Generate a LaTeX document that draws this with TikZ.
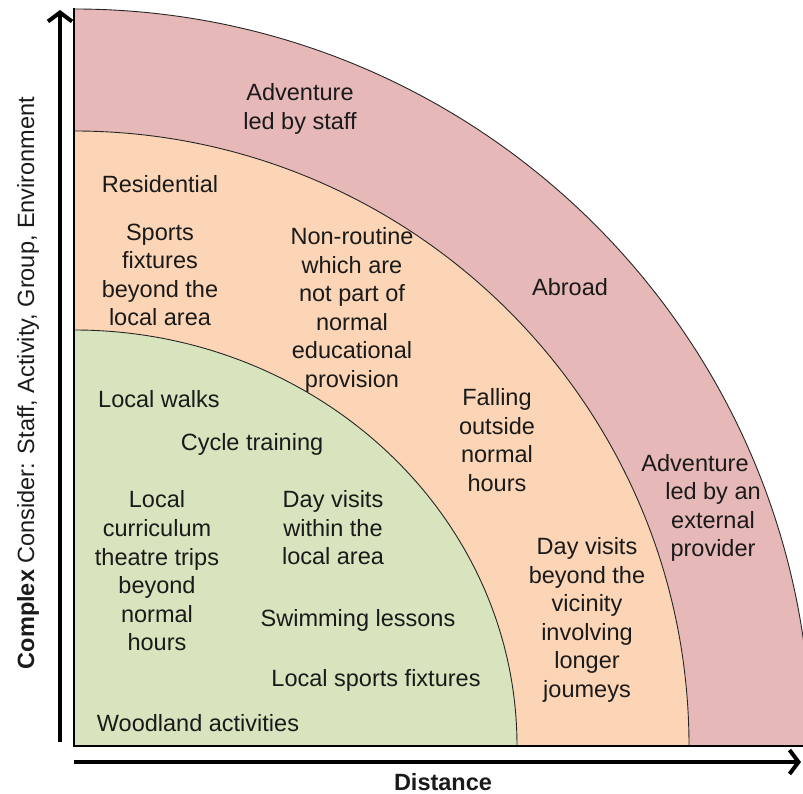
\documentclass[tikz,border=0pt]{standalone}
\usepackage{fontspec}
\setmainfont{Liberation Sans}
\usetikzlibrary{arrows.meta}
\definecolor{outerpink}{HTML}{E6B8B7}
\definecolor{midpeach}{HTML}{FBD5B5}
\definecolor{innergreen}{HTML}{D7E4BD}
\definecolor{txt}{HTML}{1A1A1A}
\tikzset{
  lbl/.style={font=\fontsize{23.6}{28.7}\selectfont, text=txt, align=center, inner sep=0pt},
  ring/.style={draw=black!85, line width=0.9bp},
  axis/.style={line width=4bp, -{Straight Barb[length=9bp,width=24bp,line width=4bp]}}
}
\begin{document}
\begin{tikzpicture}[x=1bp,y=1bp]
\useasboundingbox (0,0) rectangle (803,794);
\coordinate (C) at (74,48);
% regions
\filldraw[ring, fill=outerpink] (C) -- (74,785) arc[start angle=90,end angle=0,radius=737] -- cycle;
\filldraw[ring, fill=midpeach] (C) -- (74,663) arc[start angle=90,end angle=0,radius=615] -- cycle;
\filldraw[ring, fill=innergreen] (C) -- (74,464) arc[start angle=90,end angle=0,x radius=443,y radius=416] -- cycle;
\draw[line width=2.5bp, line cap=rect] (74,785) -- (C) -- (803,48);
% axes
\coordinate (ya) at (60,52);
\coordinate (yb) at (60,784);
\coordinate (xa) at (74,32);
\coordinate (xb) at (801,32);
\draw[axis] (ya) -- (yb);
\draw[axis] (xa) -- (xb);
% labels
\node[lbl] (adv1) at (300,685) {Adventure\\led by staff};
\node[lbl] (res) at (160,610) {Residential};
\node[lbl] (sports) at (160,519) {Sports\\fixtures\\beyond the\\local area};
\node[lbl] (nonr) at (352,484) {Non-routine\\which are\\not part of\\normal\\educational\\provision};
\node[lbl] (abroad) at (570,507) {Abroad};
\node[lbl] (fall) at (497,354) {Falling\\outside\\normal\\hours};
\node[lbl] (adv2) at (713,286) {Adventure\hspace*{36bp}\\led by an\\external\\provider};
\node[lbl] (dvb) at (587,174) {Day visits\\beyond the\\vicinity\\involving\\longer\\joumeys};
\node[lbl] (walks) at (159,395) {Local walks};
\node[lbl] (cycle) at (252,350) {Cycle training};
\node[lbl] (lcurr) at (157,223) {Local\\curriculum\\theatre trips\\beyond\\normal\\hours};
\node[lbl] (dvw) at (333,266) {Day visits\\within the\\local area};
\node[lbl] (swim) at (358,174) {Swimming lessons};
\node[lbl] (lsf) at (376,114) {Local sports fixtures};
\node[lbl] (wood) at (198,71) {Woodland activities};
\node[lbl, font=\fontsize{23.6}{28.7}\selectfont\bfseries] (dist) at (443,12) {Distance};
\node[lbl, rotate=90] (ylab) at (28,411) {\textbf{Complex} Consider: Staff, Activity, Group, Environment};
\end{tikzpicture}
\end{document}
